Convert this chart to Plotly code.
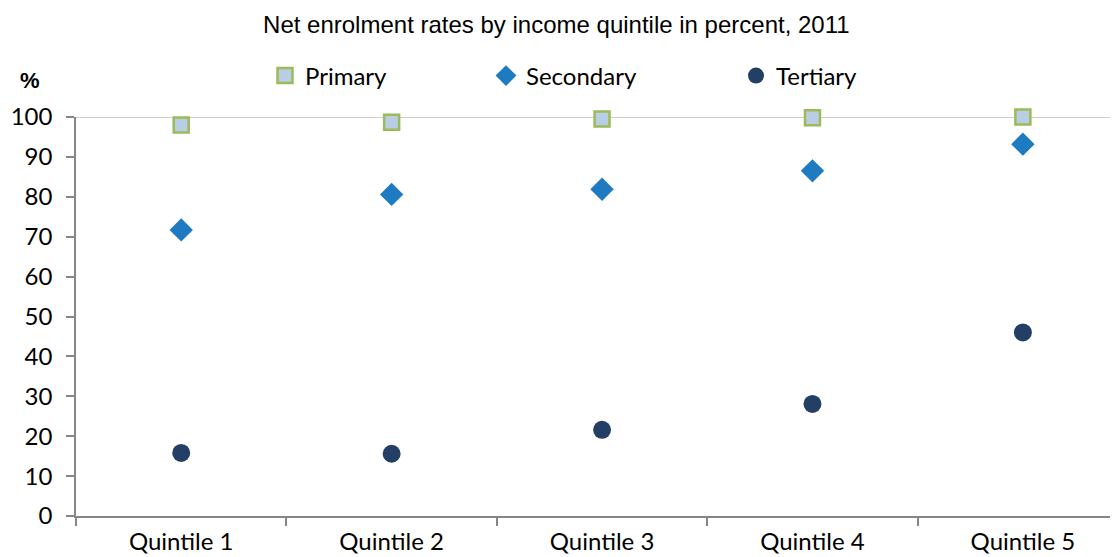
import plotly.graph_objects as go

quintiles = ["Quintile 1", "Quintile 2", "Quintile 3", "Quintile 4", "Quintile 5"]
primary = [98.0, 98.7, 99.5, 99.8, 100.0]
secondary = [71.7, 80.6, 81.9, 86.5, 93.2]
tertiary = [15.8, 15.6, 21.6, 28.1, 46.0]
y_ticks = [0, 10, 20, 30, 40, 50, 60, 70, 80, 90, 100]

# page body adds an 8px offset, so the figure is drawn 8px smaller
W, H = 1110, 549
L, T, B = 68, 109, 41
PW, PH = W - L, H - T - B

fig = go.Figure()

fig.add_trace(go.Scatter(
    x=quintiles, y=primary, mode="markers", name="Primary", legend="legend",
    cliponaxis=False,
    marker=dict(symbol="square", size=15, color="#b9cde5",
                line=dict(color="#9bbb59", width=2.5)),
))
fig.add_trace(go.Scatter(
    x=quintiles, y=secondary, mode="markers", name="Secondary", legend="legend2",
    cliponaxis=False,
    marker=dict(symbol="diamond", size=18, color="#1f7bc1", line=dict(width=0)),
))
fig.add_trace(go.Scatter(
    x=quintiles, y=tertiary, mode="markers", name="Tertiary", legend="legend3",
    cliponaxis=False,
    marker=dict(symbol="circle", size=18, color="#243f66", line=dict(width=0)),
))

# gridline only at the top value
fig.add_hline(y=100, line=dict(color="#bfbfbf", width=1.5), layer="below")

leg = dict(orientation="h", yanchor="middle", y=(508 - 68) / PH,
           xanchor="left", bgcolor="rgba(0,0,0,0)",
           font=dict(family="Lato", size=24, color="#000"), itemwidth=30)

fig.update_layout(
    width=W, height=H,
    showlegend=True,
    margin=dict(l=L, r=0, t=T, b=B),
    paper_bgcolor="white", plot_bgcolor="white",
    title=dict(text="Net enrolment rates by income quintile in percent, 2011",
               x=0.494, xref="container", xanchor="center",
               y=1 - 17 / H, yref="container", yanchor="middle",
               font=dict(family="Liberation Sans", size=24, color="#000")),
    legend=dict(leg, x=(265 - 76) / PW),
    legend2=dict(leg, x=(486 - 76) / PW),
    legend3=dict(leg, x=(736 - 76) / PW),
    xaxis=dict(
        type="category", range=[-0.5, 4.452], tickson="boundaries",
        ticks="outside", ticklen=8, tickcolor="#868686", tickwidth=1.5,
        showline=True, linecolor="#868686", linewidth=1.5,
        showgrid=False, zeroline=False, ticklabelstandoff=3, automargin=False,
        tickfont=dict(family="Lato", size=24, color="#000"),
    ),
    yaxis=dict(
        range=[0, 100], tickvals=y_ticks,
        ticks="outside", ticklen=8, tickcolor="#868686", tickwidth=1.5,
        showline=True, linecolor="#868686", linewidth=1.5,
        showgrid=False, zeroline=False, ticklabelstandoff=9, automargin=False,
        tickfont=dict(family="Lato", size=24, color="#000"),
    ),
    annotations=[dict(text="<b>%</b>", x=(22 - L) / PW, y=(508 - 72) / PH,
                      xref="paper", yref="paper", xanchor="center", yanchor="middle",
                      showarrow=False,
                      font=dict(family="Liberation Sans", size=22, color="#000"))],
)

fig.write_html("out.html")
